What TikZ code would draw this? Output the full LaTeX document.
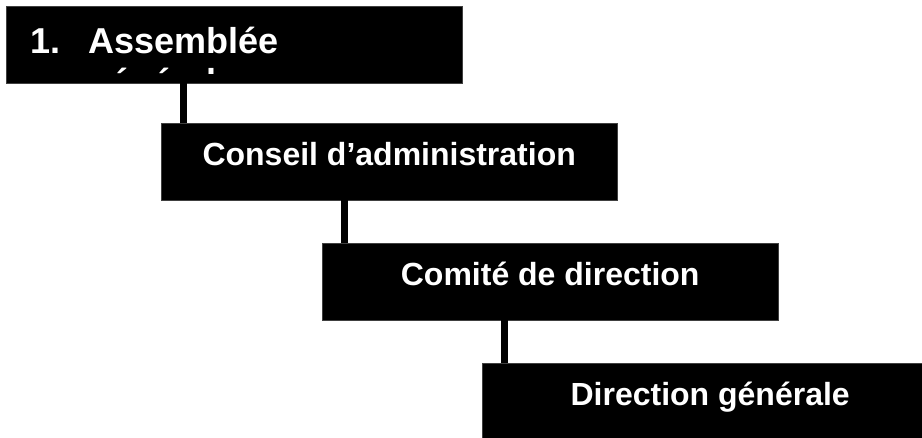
\documentclass[tikz,border=0pt]{standalone}
\usepackage{fontspec}
\setmainfont{Liberation Sans}
\usetikzlibrary{positioning,calc}

\tikzset{
    level/.style={draw=black!75, fill=black, text=white, anchor=north west,
        font=\bfseries\fontsize{32}{38}\selectfont,
        minimum width=456pt, minimum height=77pt, inner xsep=0pt, inner ysep=0pt,
        text height=42pt, text depth=35pt},
    link/.style={line width=7pt, black}
}

\begin{document}
\begin{tikzpicture}[x=1pt, y=-1pt]
    \useasboundingbox (0,0) rectangle (922,437);

    % levels of the hierarchy
    \node[level, font=\bfseries\fontsize{36}{41}\selectfont, text width=456pt, align=left,
          text height=47pt, text depth=30pt] (ag) at (6,6)
        {\hspace*{24pt}\makebox[58pt][l]{1.}Assemblée};
    \node[level] (ca) at (161,123) {Conseil d’administration};
    \node[level] (cd) at (322,243) {Comité de direction};
    \node[level] (dg) at (482,363) {Direction générale};

    % second line of the first box, cut by the box
    \begin{scope}
        \clip (6,6) rectangle (462,73);
        \node[anchor=base west, inner sep=0pt, text=white,
              font=\bfseries\fontsize{36}{41}\selectfont] (agl) at (88,94) {générale};
    \end{scope}

    % connectors
    \foreach \up/\dn in {ag/ca, ca/cd, cd/dg}
        \draw[link] ([xshift=22pt]\dn.north west) coordinate (\dn-top) -- (\dn-top |- \up.south);
\end{tikzpicture}
\end{document}
